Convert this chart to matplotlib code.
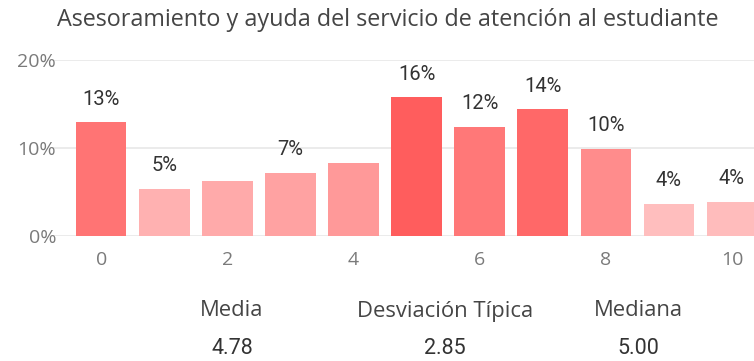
import matplotlib
matplotlib.use("Agg")
import matplotlib.pyplot as plt
from matplotlib.colors import LinearSegmentedColormap, Normalize

# Respuestas por puntuación (porcentaje)
scores = [0, 1, 2, 3, 4, 5, 6, 7, 8, 9, 10]
shares = [12.9, 5.4, 6.2, 7.2, 8.3, 15.8, 12.4, 14.4, 9.9, 3.7, 3.9]
# Puntuaciones con etiqueta visible
labelled = [0, 1, 3, 5, 6, 7, 8, 9, 10]
xticks = [0, 2, 4, 6, 8, 10]
yticks = [0, 10, 20]

stat_names = ["Media", "Desviación Típica", "Mediana"]
stat_values = ["4.78", "2.85", "5.00"]

title = "Asesoramiento y ayuda del servicio de atención al estudiante"

# Escala de color según el valor
cmap = LinearSegmentedColormap.from_list("rojos", ["#FFBEBE", "#FF5D5D"])
norm = Normalize(vmin=min(shares), vmax=max(shares))

fig = plt.figure(figsize=(7.54, 3.61), dpi=100)
ax = fig.add_axes([0.069, 0.346, 0.931, 0.488])

colors = [cmap(norm(v)) for v in shares]
ax.bar(scores, shares, width=0.8, color=colors, zorder=2)

for i in labelled:
    ax.annotate("{:.0f}%".format(shares[i]), (scores[i], shares[i]),
                xytext=(0, 16.5), textcoords="offset points",
                ha="center", va="center", fontsize=14.5,
                family="Roboto", color="#333333")

ax.set_xlim(-0.78, 10.35)
ax.set_ylim(0, 20)
ax.set_xticks(xticks)
ax.set_yticks(yticks)
ax.set_yticklabels(["{}%".format(t) for t in yticks])
ax.tick_params(length=0, labelsize=14, labelcolor="#7a7a7a")
ax.tick_params(axis="x", pad=11)
ax.tick_params(axis="y", pad=-3)
for lbl in ax.get_xticklabels() + ax.get_yticklabels():
    lbl.set_family("Open Sans")
ax.grid(axis="y", color="#e8e8e8", linewidth=1.2, zorder=0)
for s in ax.spines.values():
    s.set_visible(False)

fig.text(57 / 754, 1 - 20 / 361, title, ha="left", va="center",
         fontsize=16.8, family="Open Sans", color="#454545")

# Estadísticos bajo el gráfico
stat_x = [232, 445, 638]
for x, name, val in zip(stat_x, stat_names, stat_values):
    fig.text(x / 754, 1 - 311 / 361, name, ha="center", va="center",
             fontsize=15.8, family="Open Sans", color="#454545")
    fig.text(x / 754, 1 - 348 / 361, val, ha="center", va="center",
             fontsize=15.5, family="Roboto", color="#333333")

fig.savefig("out.png", dpi=100)
